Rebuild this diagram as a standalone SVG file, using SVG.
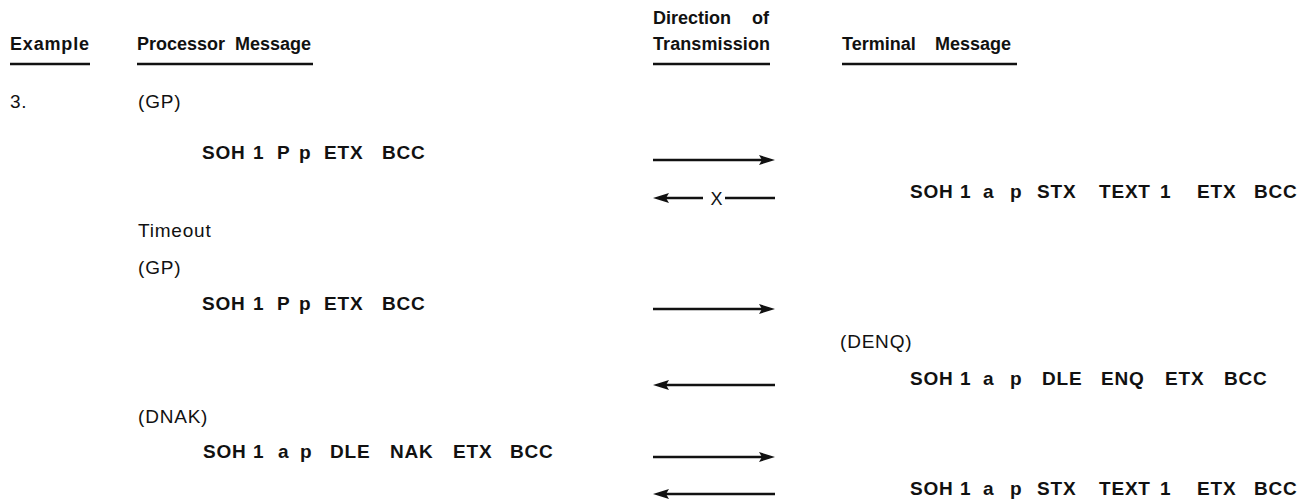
<svg xmlns="http://www.w3.org/2000/svg" width="1299" height="502" viewBox="0 0 1299 502">
<style>
text{font-family:"Liberation Sans",Arial,Helvetica,sans-serif;fill:#111}
.h{font-weight:bold;font-size:18px}
.m{font-weight:bold;font-size:19px;letter-spacing:0.8px}
.l{font-size:19px;letter-spacing:0.8px}
.ul{stroke:#111;stroke-width:2.6}
.arr{stroke:#111;stroke-width:2.4;fill:none}
</style>
<defs>
<marker id="ah" markerUnits="userSpaceOnUse" markerWidth="16" markerHeight="10" refX="10" refY="5" orient="auto"><path d="M0,0 L16,5 L0,10 L3,5 Z" fill="#111"/></marker>
</defs>
<rect width="1299" height="502" fill="#fff"/>

<g id="hdr-example"><text class="h" x="10" y="50" textLength="79" lengthAdjust="spacing">Example</text><line class="ul" x1="10" y1="64" x2="90" y2="64"/></g>
<g id="hdr-processor"><text class="h" y="50"><tspan x="137">Processor</tspan><tspan x="235">Message</tspan></text><line class="ul" x1="137" y1="64" x2="313" y2="64"/></g>
<g id="hdr-direction"><text class="h" y="24"><tspan x="653">Direction</tspan><tspan x="752">of</tspan></text><text class="h" x="653" y="50" textLength="117" lengthAdjust="spacing">Transmission</text><line class="ul" x1="653" y1="64" x2="770" y2="64"/></g>
<g id="hdr-terminal"><text class="h" y="50"><tspan x="842">Terminal</tspan><tspan x="935">Message</tspan></text><line class="ul" x1="842" y1="64" x2="1017" y2="64"/></g>

<g id="ex-num"><text class="l" x="10" y="108">3.</text></g>
<g id="gp1"><text class="l" x="138" y="108">(GP)</text></g>
<g id="proc-a"><text class="m" y="159"><tspan x="202">SOH</tspan><tspan x="253">1</tspan><tspan x="277">P</tspan><tspan x="299">p</tspan><tspan x="324">ETX</tspan><tspan x="382">BCC</tspan></text></g>
<g id="term-b"><text class="m" y="198"><tspan x="910">SOH</tspan><tspan x="960">1</tspan><tspan x="983">a</tspan><tspan x="1010">p</tspan><tspan x="1037">STX</tspan><tspan x="1099">TEXT</tspan><tspan x="1160">1</tspan><tspan x="1197">ETX</tspan><tspan x="1254">BCC</tspan></text></g>
<g id="timeout"><text class="l" x="138" y="237">Timeout</text></g>
<g id="gp2"><text class="l" x="138" y="274">(GP)</text></g>
<g id="proc-c"><text class="m" y="310"><tspan x="202">SOH</tspan><tspan x="253">1</tspan><tspan x="277">P</tspan><tspan x="299">p</tspan><tspan x="324">ETX</tspan><tspan x="382">BCC</tspan></text></g>
<g id="denq"><text class="l" x="840" y="348">(DENQ)</text></g>
<g id="term-d"><text class="m" y="385"><tspan x="910">SOH</tspan><tspan x="960">1</tspan><tspan x="983">a</tspan><tspan x="1010">p</tspan><tspan x="1042">DLE</tspan><tspan x="1101">ENQ</tspan><tspan x="1165">ETX</tspan><tspan x="1224">BCC</tspan></text></g>
<g id="dnak"><text class="l" x="138" y="423">(DNAK)</text></g>
<g id="proc-e"><text class="m" y="458"><tspan x="203">SOH</tspan><tspan x="253">1</tspan><tspan x="278">a</tspan><tspan x="300">p</tspan><tspan x="330">DLE</tspan><tspan x="390">NAK</tspan><tspan x="453">ETX</tspan><tspan x="510">BCC</tspan></text></g>
<g id="term-f"><text class="m" y="495"><tspan x="910">SOH</tspan><tspan x="960">1</tspan><tspan x="983">a</tspan><tspan x="1010">p</tspan><tspan x="1037">STX</tspan><tspan x="1099">TEXT</tspan><tspan x="1160">1</tspan><tspan x="1197">ETX</tspan><tspan x="1254">BCC</tspan></text></g>

<g id="connectors">
<line class="arr" x1="653" y1="160" x2="769" y2="160" marker-end="url(#ah)"/>
<line class="arr" x1="703" y1="198" x2="659" y2="198" marker-end="url(#ah)"/>
<line class="arr" x1="725" y1="198" x2="775" y2="198"/>
<text x="716.5" y="204.5" text-anchor="middle" font-size="18" style="font-family:'Liberation Sans',Arial,sans-serif">X</text>
<line class="arr" x1="653" y1="309" x2="769" y2="309" marker-end="url(#ah)"/>
<line class="arr" x1="775" y1="385" x2="659" y2="385" marker-end="url(#ah)"/>
<line class="arr" x1="653" y1="457" x2="769" y2="457" marker-end="url(#ah)"/>
<line class="arr" x1="775" y1="494" x2="659" y2="494" marker-end="url(#ah)"/>
</g>
</svg>
